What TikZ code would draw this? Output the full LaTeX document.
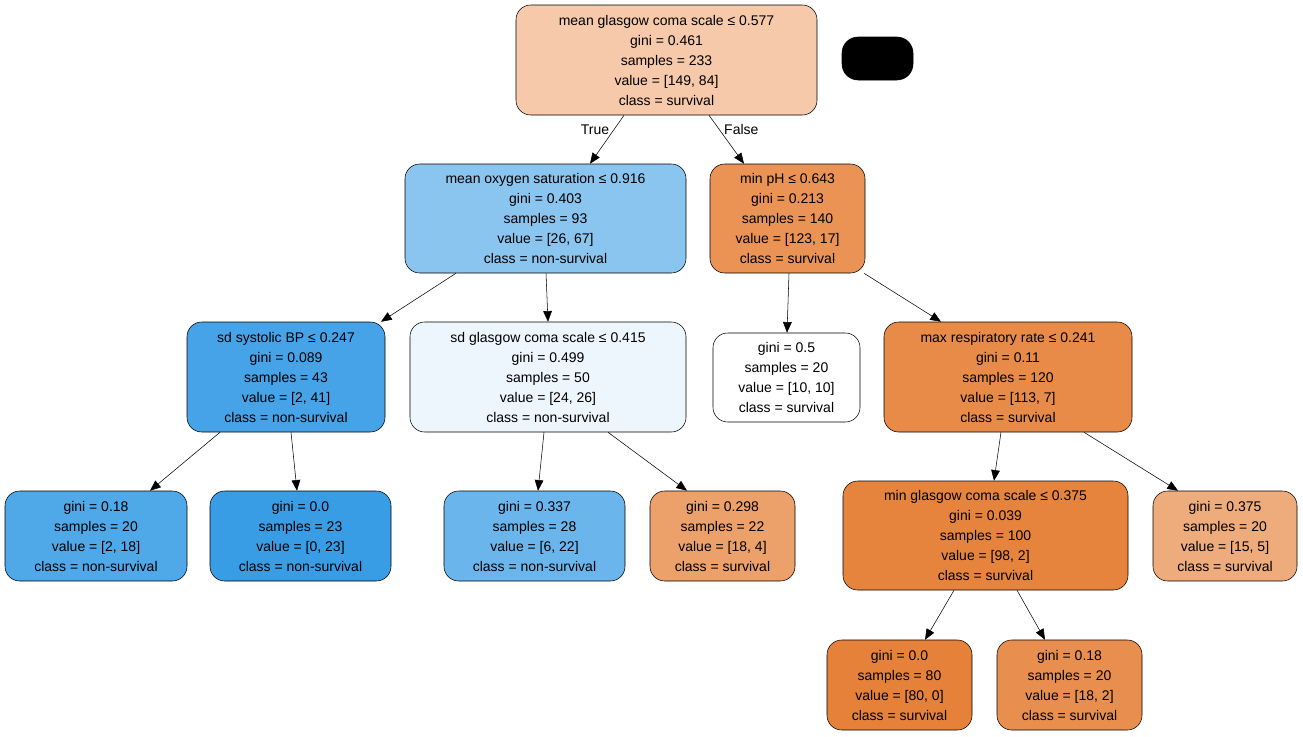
\documentclass[tikz,border=0pt]{standalone}
\usepackage{fontspec}
\setmainfont{Liberation Sans}
\usetikzlibrary{arrows.meta}
\tikzset{
  box/.style={rectangle, rounded corners=11pt, draw, thin, align=center, inner sep=0pt,
    font=\fontsize{10.5}{15}\selectfont},
  bx/.style n args={3}{minimum width=#1*0.75pt, minimum height=#2*0.75pt, fill=#3},
  edge/.style={-{Triangle[length=8pt,width=6.5pt]}, thin},
}
\begin{document}
\begin{tikzpicture}[x=0.75pt, y=-0.75pt]
  \useasboundingbox (0,0) rectangle (1303,736);
  \definecolor{cRoot}{HTML}{F5C9A9}
  \definecolor{cA}{HTML}{8AC5F0}
  \definecolor{cB}{HTML}{EA9355}
  \definecolor{cC}{HTML}{46A3E7}
  \definecolor{cD}{HTML}{EEF6FD}
  \definecolor{cE}{HTML}{E88A48}
  \definecolor{cF}{HTML}{4FA8E8}
  \definecolor{cG}{HTML}{399DE5}
  \definecolor{cH}{HTML}{6AB6EC}
  \definecolor{cI}{HTML}{ECA06A}
  \definecolor{cJ}{HTML}{E6843D}
  \definecolor{cK}{HTML}{EEAB7B}
  \definecolor{cL}{HTML}{E58139}
  \definecolor{cM}{HTML}{E88F4F}

  % Nodes
  \node[box, bx={301}{110}{cRoot}] (root) at (666.5,60) {mean glasgow coma scale ≤ 0.577\\gini = 0.461\\samples = 233\\value = [149, 84]\\class = survival};
  \node[box, bx={71}{43}{black}, rounded corners=12pt] (legend) at (877.5,58.5) {};
  \node[box, bx={281}{109}{cA}] (oxy) at (545.5,218.5) {mean oxygen saturation ≤ 0.916\\gini = 0.403\\samples = 93\\value = [26, 67]\\class = non-survival};
  \node[box, bx={155}{109}{cB}] (ph) at (787.5,218.5) {min pH ≤ 0.643\\gini = 0.213\\samples = 140\\value = [123, 17]\\class = survival};
  \node[box, bx={198}{110}{cC}] (sbp) at (286,377) {sd systolic BP ≤ 0.247\\gini = 0.089\\samples = 43\\value = [2, 41]\\class = non-survival};
  \node[box, bx={276}{110}{cD}] (sdgcs) at (548,377) {sd glasgow coma scale ≤ 0.415\\gini = 0.499\\samples = 50\\value = [24, 26]\\class = non-survival};
  \node[box, bx={147}{89}{white}] (phl) at (786.5,377.5) {gini = 0.5\\samples = 20\\value = [10, 10]\\class = survival};
  \node[box, bx={248}{110}{cE}] (resp) at (1008,377) {max respiratory rate ≤ 0.241\\gini = 0.11\\samples = 120\\value = [113, 7]\\class = survival};
  \node[box, bx={182}{90}{cF}] (sbpl) at (96,536) {gini = 0.18\\samples = 20\\value = [2, 18]\\class = non-survival};
  \node[box, bx={181}{90}{cG}] (sbpr) at (300.5,536) {gini = 0.0\\samples = 23\\value = [0, 23]\\class = non-survival};
  \node[box, bx={181}{90}{cH}] (gcsl) at (534.5,536) {gini = 0.337\\samples = 28\\value = [6, 22]\\class = non-survival};
  \node[box, bx={145}{90}{cI}] (gcsr) at (722.5,536) {gini = 0.298\\samples = 22\\value = [18, 4]\\class = survival};
  \node[box, bx={285}{109}{cJ}] (mingcs) at (985.5,535.5) {min glasgow coma scale ≤ 0.375\\gini = 0.039\\samples = 100\\value = [98, 2]\\class = survival};
  \node[box, bx={144}{90}{cK}] (respr) at (1225,536) {gini = 0.375\\samples = 20\\value = [15, 5]\\class = survival};
  \node[box, bx={145}{90}{cL}] (mgl) at (899.5,685) {gini = 0.0\\samples = 80\\value = [80, 0]\\class = survival};
  \node[box, bx={145}{90}{cM}] (mgr) at (1069.5,685) {gini = 0.18\\samples = 20\\value = [18, 2]\\class = survival};

  % Edges
  \draw[edge] (root.south -| 624,0) -- node[pos=0.3, left, font=\fontsize{10.5}{12}\selectfont] {True} (oxy.north -| 590,0);
  \draw[edge] (root.south -| 709,0) -- node[pos=0.3, right, font=\fontsize{10.5}{12}\selectfont] {False} (ph.north -| 744,0);
  \draw[edge] (oxy.south -| 456,0) -- (sbp.north -| 381,0);
  \draw[edge] (oxy.south -| 546,0) -- (sdgcs.north -| 548,0);
  \draw[edge] (ph.south -| 789,0) -- (phl.north -| 787,0);
  \draw[edge] (ph.south -| 864,0) -- (resp.north -| 941,0);
  \draw[edge] (sbp.south -| 220,0) -- (sbpl.north -| 150,0);
  \draw[edge] (sbp.south -| 291,0) -- (sbpr.north -| 297,0);
  \draw[edge] (sdgcs.south -| 544,0) -- (gcsl.north -| 538,0);
  \draw[edge] (sdgcs.south -| 608,0) -- (gcsr.north -| 687,0);
  \draw[edge] (resp.south -| 1001,0) -- (mingcs.north -| 994,0);
  \draw[edge] (resp.south -| 1084,0) -- (respr.north -| 1178,0);
  \draw[edge] (mingcs.south -| 954,0) -- (mgl.north -| 925,0);
  \draw[edge] (mingcs.south -| 1017,0) -- (mgr.north -| 1045,0);
\end{tikzpicture}
\end{document}
